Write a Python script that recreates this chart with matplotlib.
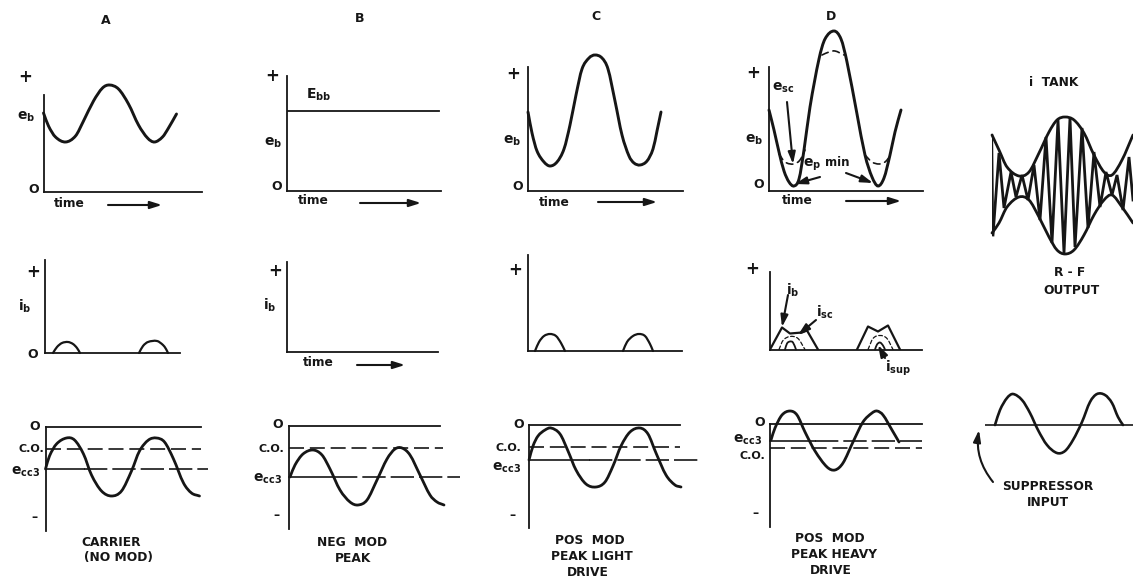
import matplotlib
matplotlib.use('Agg')
import matplotlib.pyplot as plt
from matplotlib.path import Path
from matplotlib.patches import PathPatch

plt.rcParams['font.family'] = ['DejaVu Sans']
plt.rcParams['font.weight'] = 'bold'
plt.rcParams['mathtext.fontset'] = 'dejavusans'
plt.rcParams['mathtext.default'] = 'bf'

INK = '#161616'
W, H = 1133, 579

# Plate voltage, top row
eb_a_t = [0, 5, 12, 22, 32, 40, 50, 59, 66, 75, 85, 95, 104, 111, 119, 125, 133]
eb_a_v = [79, 66, 55, 50, 56, 71, 91, 104, 107, 103, 88, 67, 54, 50, 55, 64, 78]
ebb_level = 80
eb_c_t = [0, 4, 9, 16, 22, 29, 36, 42, 48, 54, 61, 67, 74, 80, 87, 94, 101, 106, 112, 119, 125, 129, 133]
eb_c_v = [79, 58, 40, 29, 25, 29, 42, 66, 96, 122, 133, 136, 133, 122, 90, 56, 35, 28, 26, 30, 42, 60, 79]
eb_d_t = [0, 5, 10, 15, 20, 25, 30, 35, 41, 50, 56, 65, 72, 78, 88, 96, 103, 109, 115, 121, 126, 132]
eb_d_v = [81, 61, 39, 20, 9, 5, 12, 41, 84, 132, 152, 160, 152, 129, 77, 36, 14, 5, 13, 36, 59, 81]
esc_top_t = [53, 60, 66, 75]
esc_top_v = [136, 139, 140, 136]
esc_low1_t = [10, 16, 25, 31, 36]
esc_low1_v = [37, 29, 27, 31, 41]
esc_low2_t = [96, 103, 110, 116, 122]
esc_low2_v = [36, 29, 27, 29, 36]

# Plate current, middle row
ib_a1_t = [8, 12, 17, 23, 28, 32, 35]
ib_a1_v = [0, 6, 10, 11, 9, 5, 0]
ib_a2_t = [94, 98, 103, 112, 118, 121, 123]
ib_a2_v = [0, 7, 11, 12, 8, 4, 0]
ib_c1_t = [7, 11, 16, 22, 28, 33, 37]
ib_c1_v = [0, 9, 15, 17, 15, 8, 0]
ib_c2_t = [95, 99, 105, 111, 117, 122, 125]
ib_c2_v = [0, 9, 15, 17, 15, 7, 0]
ib_d1_t = [0, 12, 20, 32, 37, 48]
ib_d1_v = [0, 22, 16, 17, 19, 0]
ib_d2_t = [87, 98, 108, 118, 130]
ib_d2_v = [0, 23, 18, 24, 0]
isc_d1_t = [9, 13, 20, 28, 35]
isc_d1_v = [0, 9, 13, 11, 0]
isc_d2_t = [98, 103, 110, 117, 123]
isc_d2_v = [0, 11, 14, 11, 0]
isup_d1_t = [15, 17, 20, 23, 26]
isup_d1_v = [0, 6, 8, 7, 0]
isup_d2_t = [105, 107, 110, 113, 115]
isup_d2_v = [0, 5, 7, 4, 0]

# Suppressor grid voltage, bottom row
ec_a_t = [0, 4, 11, 21, 29, 38, 46, 56, 66, 76, 86, 94, 103, 111, 119, 128, 138, 146, 154]
ec_a_v = [-42, -29, -17, -11, -13, -27, -48, -64, -69, -64, -44, -24, -13, -11, -15, -32, -56, -66, -69]
ec_b_t = [1, 6, 14, 24, 33, 41, 51, 61, 69, 78, 88, 98, 106, 113, 121, 131, 141, 148, 155]
ec_b_v = [-51, -39, -28, -24, -29, -43, -64, -76, -79, -74, -54, -33, -23, -22, -29, -49, -69, -76, -79]
ec_c_t = [0, 4, 9, 16, 22, 31, 39, 47, 57, 67, 76, 84, 92, 101, 111, 119, 127, 137, 146, 152]
ec_c_v = [-35, -21, -11, -5, -3, -9, -26, -45, -59, -62, -57, -41, -21, -7, -3, -9, -28, -50, -60, -62]
ec_d_t = [1, 5, 12, 20, 27, 35, 45, 57, 65, 73, 83, 93, 102, 107, 113, 122, 129]
ec_d_v = [-16, -4, 9, 13, 9, -8, -27, -43, -46, -39, -18, 2, 11, 13, 9, -6, -18]
co_levels = [-22, -22, -22, -24]
ecc3_levels = [-42, -51, -35, -17]

# Tank current and suppressor input, right column
tank_t = [0, 7, 15, 27, 37, 47, 57, 65, 73, 82, 92, 102, 112, 120, 130, 141]
tank_upper = [50, 35, 18, 9, 13, 32, 53, 65, 68, 65, 52, 30, 13, 10, 25, 50]
tank_lower = [-48, -38, -22, -12, -15, -32, -52, -65, -69, -65, -50, -30, -15, -10, -22, -38]
rf_t = [1, 7, 12, 19, 24, 30, 36, 42, 48, 54, 60, 66, 72, 78, 83, 90, 96, 102, 108, 114, 120, 125, 131, 137, 141]
rf_v = [-50, 32, -23, 13, -12, 10, -15, 20, -35, 48, -58, 65, -68, 67, -62, 57, -43, 33, -22, 13, -10, 10, -25, 28, -15]
sup_t = [10, 15, 22, 28, 37, 45, 53, 62, 72, 80, 88, 97, 105, 112, 120, 127, 133, 138]
sup_v = [0, 15, 27, 31, 25, 12, -5, -20, -28, -26, -15, 3, 23, 31, 30, 22, 8, 0]

fig = plt.figure(figsize=(W / 100, H / 100), dpi=100, facecolor='white')


def panel(x0, y0, width, top, bottom=0):
    # one pixel per unit, value 0 sits at pixel row y0
    ax = fig.add_axes([x0 / W, 1 - (y0 - bottom) / H, width / W, (top - bottom) / H])
    ax.set_xlim(0, width)
    ax.set_ylim(bottom, top)
    ax.set_xticks([])
    ax.set_yticks([])
    ax.patch.set_alpha(0)
    for side in ['top', 'right']:
        ax.spines[side].set_visible(False)
    ax.spines['bottom'].set_position(('data', 0))
    for side in ['left', 'bottom']:
        ax.spines[side].set_color(INK)
        ax.spines[side].set_linewidth(1.3)
    return ax


def curve(ax, t, v, lw=1.9, ls='-'):
    # bezier segments through every reading, slope taken from the neighbours
    n = len(t)
    slope = []
    for i in range(n):
        a = max(i - 1, 0)
        b = min(i + 1, n - 1)
        slope.append((v[b] - v[a]) / (t[b] - t[a]))
    verts = [(t[0], v[0])]
    codes = [Path.MOVETO]
    for i in range(n - 1):
        dt = (t[i + 1] - t[i]) / 3
        verts += [(t[i] + dt, v[i] + slope[i] * dt),
                  (t[i + 1] - dt, v[i + 1] - slope[i + 1] * dt),
                  (t[i + 1], v[i + 1])]
        codes += [Path.CURVE4, Path.CURVE4, Path.CURVE4]
    ax.add_patch(PathPatch(Path(verts, codes), fc='none', ec=INK, lw=lw, ls=ls,
                           capstyle='round', clip_on=False))


def note(x, y, s, size=8.5):
    fig.text(x / W, 1 - y / H, s, ha='center', va='center', fontsize=size, color=INK)


# Top row
ax_a1 = panel(43.5, 192, 158, 97)
curve(ax_a1, eb_a_t, eb_a_v, lw=2.1)
ax_b1 = panel(287, 191, 154, 115)
ax_b1.plot([0, 152], [ebb_level, ebb_level], color=INK, lw=1.3)
ax_c1 = panel(528, 191, 155, 124)
curve(ax_c1, eb_c_t, eb_c_v, lw=2.1)
ax_d1 = panel(769, 191, 154, 124)
curve(ax_d1, eb_d_t, eb_d_v, lw=2.1)
for t, v in [(esc_top_t, esc_top_v), (esc_low1_t, esc_low1_v), (esc_low2_t, esc_low2_v)]:
    curve(ax_d1, t, v, lw=1.2, ls=(0, (4, 3)))

# Middle row
ax_a2 = panel(45, 353, 135, 93)
curve(ax_a2, ib_a1_t, ib_a1_v, lw=1.6)
curve(ax_a2, ib_a2_t, ib_a2_v, lw=1.6)
ax_b2 = panel(287, 352, 151, 90)
ax_c2 = panel(528, 351, 154, 96)
curve(ax_c2, ib_c1_t, ib_c1_v, lw=1.6)
curve(ax_c2, ib_c2_t, ib_c2_v, lw=1.6)
ax_d2 = panel(770, 349.5, 152, 78)
ax_d2.plot(ib_d1_t, ib_d1_v, color=INK, lw=1.6, solid_joinstyle='round')
ax_d2.plot(ib_d2_t, ib_d2_v, color=INK, lw=1.6, solid_joinstyle='round')
curve(ax_d2, isc_d1_t, isc_d1_v, lw=0.9, ls=(0, (3, 2)))
curve(ax_d2, isc_d2_t, isc_d2_v, lw=0.9, ls=(0, (3, 2)))
curve(ax_d2, isup_d1_t, isup_d1_v, lw=1.3)
curve(ax_d2, isup_d2_t, isup_d2_v, lw=1.3)

# Bottom row
ax_a3 = panel(45.5, 427, 155.5, 0, -104)
ax_b3 = panel(289, 426, 151, 0, -103)
ax_c3 = panel(529, 425, 151, 0, -103)
ax_d3 = panel(770, 424, 152, 0, -103)
bottom_axes = [ax_a3, ax_b3, ax_c3, ax_d3]
bottom_curves = [(ec_a_t, ec_a_v), (ec_b_t, ec_b_v), (ec_c_t, ec_c_v), (ec_d_t, ec_d_v)]
co_ends = [155, 154, 151, 152]
ecc3_ends = [162, 171, 169, 152]
ecc3_solid = [38, 45, 60, 45]
for i, ax in enumerate(bottom_axes):
    t, v = bottom_curves[i]
    curve(ax, t, v, lw=2.0)
    ax.plot([0, co_ends[i]], [co_levels[i], co_levels[i]], color=INK, lw=1.2,
            ls=(0, (9, 3.5)), clip_on=False)
    ax.plot([0, ecc3_solid[i]], [ecc3_levels[i], ecc3_levels[i]], color=INK, lw=1.2, clip_on=False)
    ax.plot([ecc3_solid[i], ecc3_ends[i]], [ecc3_levels[i], ecc3_levels[i]], color=INK, lw=1.2,
            ls=(0, (14, 3)), clip_on=False)

# Right column, no axes drawn
ax_tank = fig.add_axes([992 / W, 1 - 256 / H, 141 / W, 142 / H])
ax_tank.set_xlim(0, 141)
ax_tank.set_ylim(-71, 71)
ax_tank.axis('off')
curve(ax_tank, tank_t, tank_upper, lw=2.0)
curve(ax_tank, tank_t, tank_lower, lw=2.0)
ax_tank.plot(rf_t, rf_v, color=INK, lw=2.0, solid_joinstyle='miter')
ax_tank.plot([0, 1], [50, -48], color=INK, lw=1.6)

ax_sup = fig.add_axes([985 / W, 1 - 465 / H, 148 / W, 80 / H])
ax_sup.set_xlim(0, 148)
ax_sup.set_ylim(-40, 40)
ax_sup.axis('off')
ax_sup.plot([0, 148], [0, 0], color=INK, lw=1.2)
curve(ax_sup, sup_t, sup_v, lw=1.9)

# Overlay in pixel rows for the pen arrows
ov = fig.add_axes([0, 0, 1, 1])
ov.set_xlim(0, W)
ov.set_ylim(H, 0)
ov.axis('off')


def pen_arrow(x1, y1, x2, y2, rad=0.0):
    ov.annotate('', xy=(x2, y2), xytext=(x1, y1),
                arrowprops=dict(arrowstyle='-|>,head_length=0.7,head_width=0.22', color=INK,
                                lw=1.5, shrinkA=0, shrinkB=0,
                                connectionstyle=f'arc3,rad={rad}'))


for x1, x2, y in [(108, 162, 205), (360, 421, 203), (598, 657, 202), (846, 901, 201), (357, 405, 365)]:
    pen_arrow(x1, y, x2, y)
pen_arrow(787, 102, 793, 164)
pen_arrow(820, 177, 795, 184)
pen_arrow(846, 173, 873, 183)
pen_arrow(788, 295, 782, 327)
pen_arrow(816, 320, 798, 335)
pen_arrow(885, 358, 878, 345)
pen_arrow(993, 482, 979, 430, rad=-0.22)

# Lettering
for x, y, s in [(106, 20, 'A'), (360, 18, 'B'), (596, 17, 'C'), (831, 17, 'D')]:
    note(x, y, s, 9)
for x, y in [(25, 77), (272, 76), (513, 74), (753, 73), (33, 272), (275, 271), (515, 270), (752, 269)]:
    note(x, y, '+', 12)
for x, y in [(34, 517), (276, 515), (512, 515), (755, 513)]:
    note(x, y, '–', 9)
for x, y in [(34, 189), (277, 187), (518, 187), (759, 185), (33, 355), (35, 426), (278, 425), (519, 424), (760, 423)]:
    note(x, y, 'O', 9)
for x, y in [(69, 203), (313, 201), (554, 202), (797, 201), (318, 363)]:
    note(x, y, 'time', 8.8)
for x, y in [(26, 117), (273, 143), (512, 141), (754, 140)]:
    note(x, y, '$e_b$', 10)
for x, y in [(25, 306), (270, 305)]:
    note(x, y, '$i_b$', 10)
for x, y in [(31, 449), (271, 449), (508, 448), (752, 456)]:
    note(x, y, 'C.O.', 8)
for x, y in [(26, 472), (268, 479), (507, 468), (748, 440)]:
    note(x, y, '$e_{cc3}$', 10)
note(319, 95, '$E_{bb}$', 10)
note(783, 88, '$e_{sc}$', 10)
note(812, 165, '$e_p$', 10)
note(837, 162, 'min', 8.5)
note(793, 290, '$i_b$', 10)
note(825, 312, '$i_{sc}$', 10)
note(898, 368, '$i_{sup}$', 10)
note(111, 543, 'CARRIER', 8.8)
note(118, 558, '(NO MOD)', 8.8)
note(352, 542, 'NEG  MOD', 8.8)
note(353, 558, 'PEAK', 8.8)
note(590, 540, 'POS  MOD', 8.8)
note(592, 557, 'PEAK LIGHT', 8.8)
note(588, 572, 'DRIVE', 8.8)
note(830, 539, 'POS  MOD', 8.8)
note(834, 555, 'PEAK HEAVY', 8.8)
note(831, 571, 'DRIVE', 8.8)
note(1054, 83, 'i  TANK', 8.8)
note(1070, 272, 'R - F', 8.8)
note(1072, 291, 'OUTPUT', 8.8)
note(1048, 487, 'SUPPRESSOR', 8.8)
note(1048, 503, 'INPUT', 8.8)

fig.savefig('out.png', dpi=100, facecolor='white')
